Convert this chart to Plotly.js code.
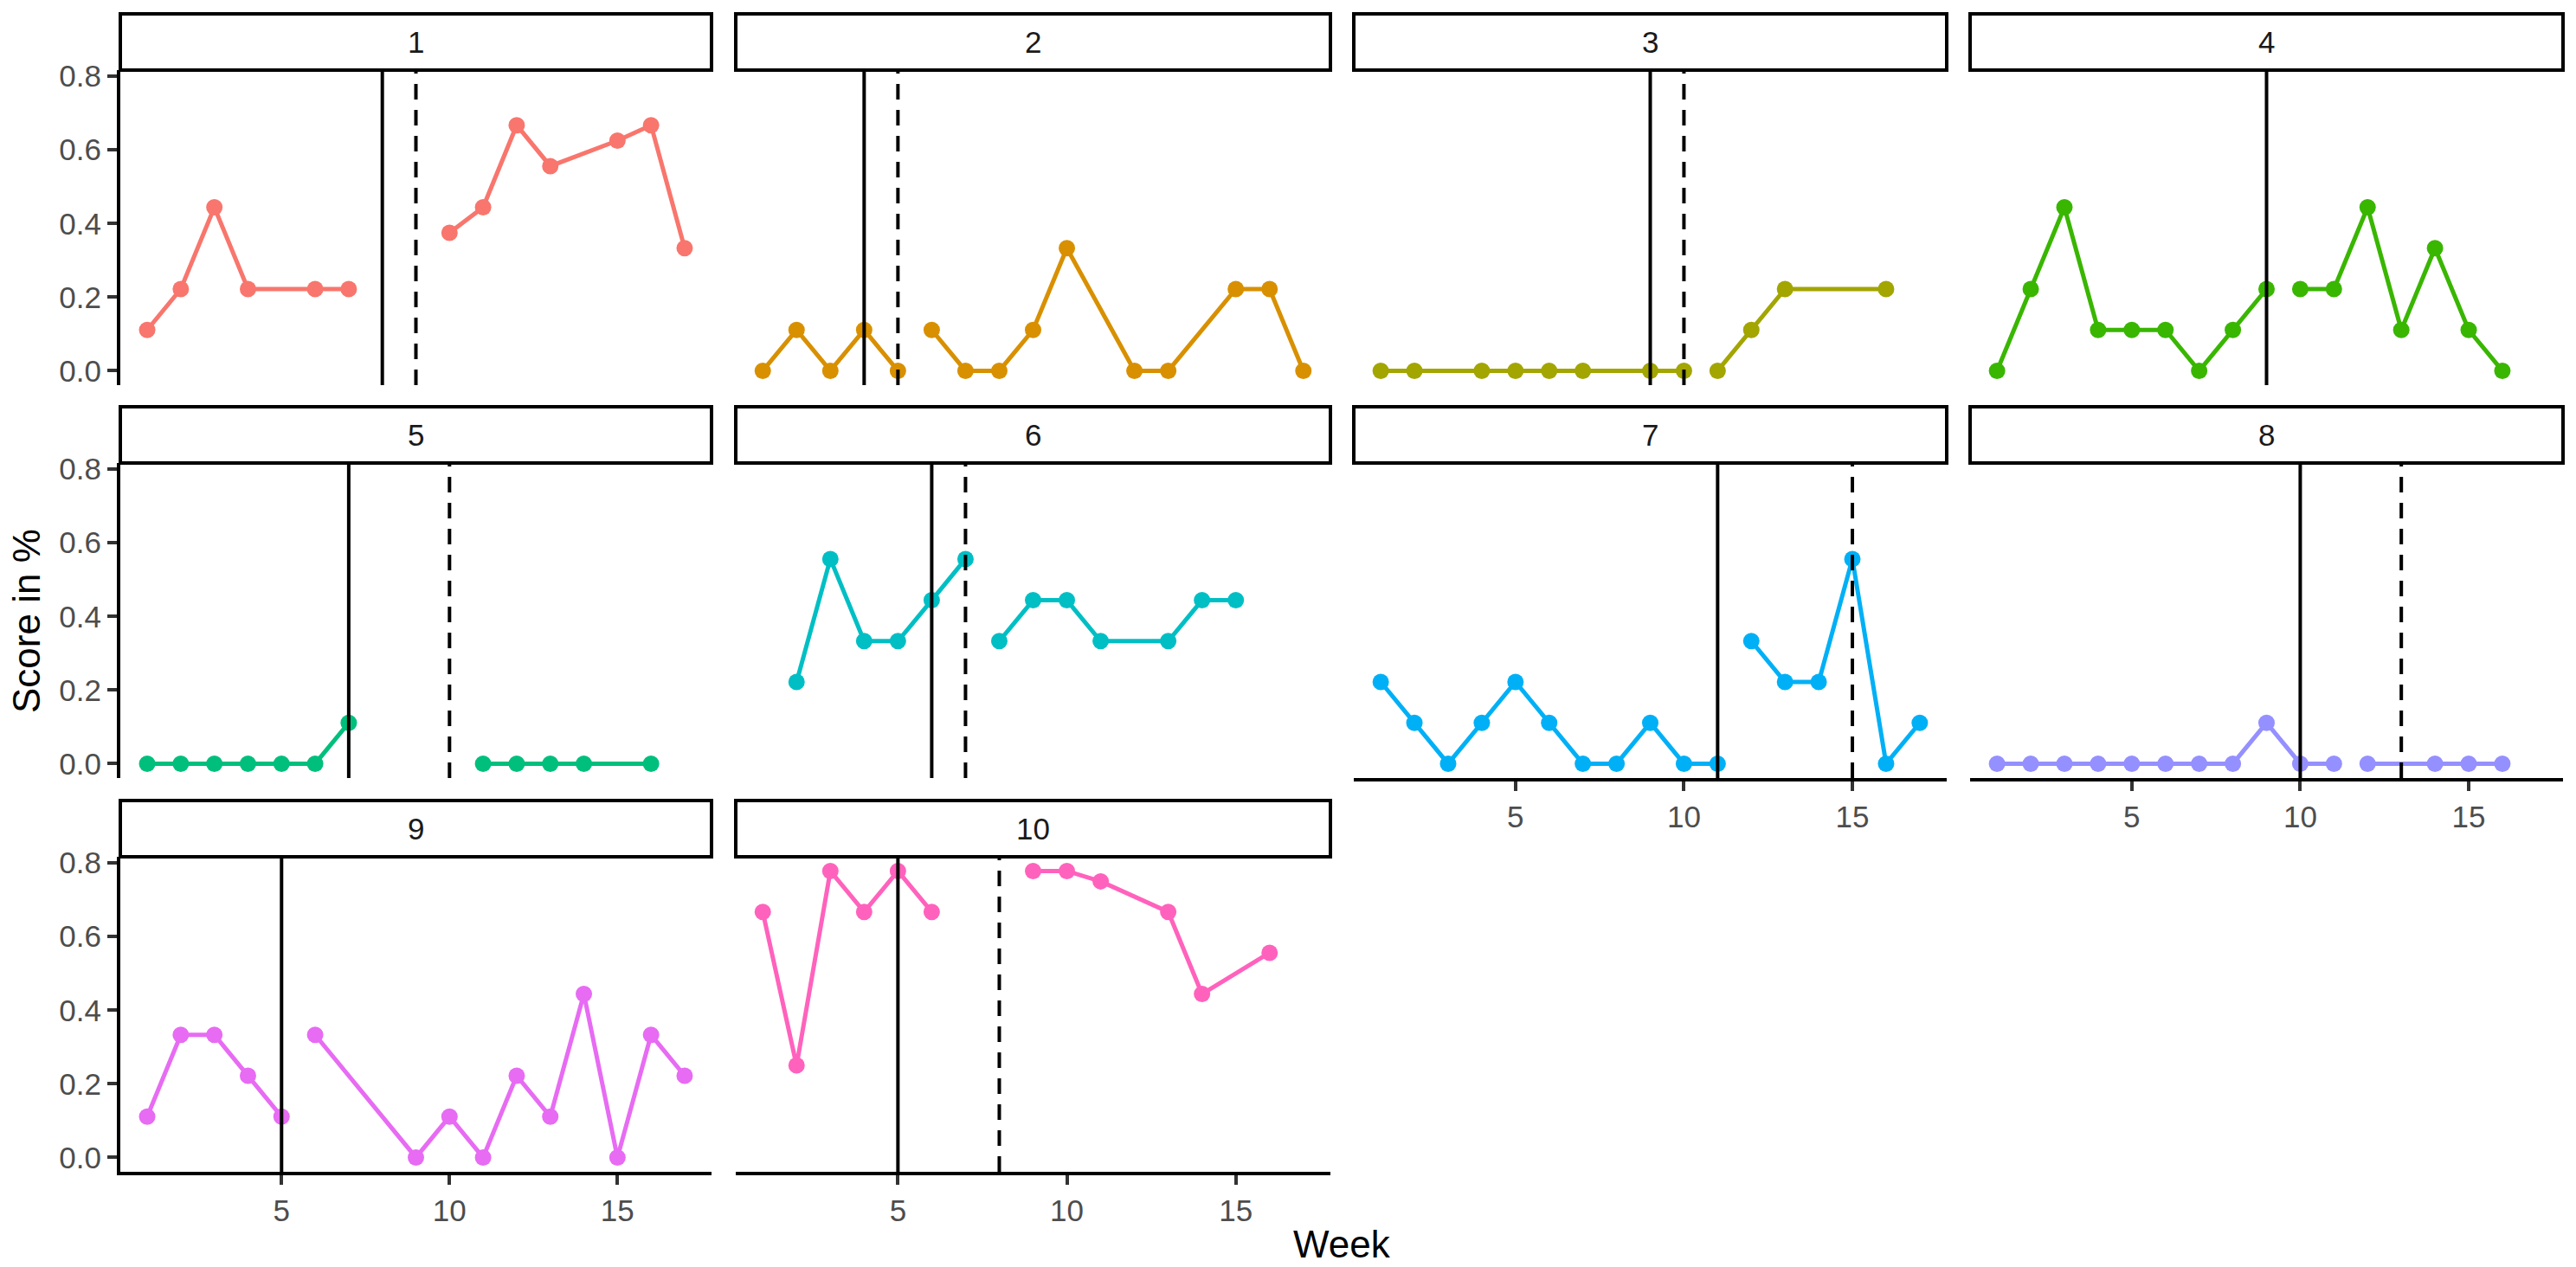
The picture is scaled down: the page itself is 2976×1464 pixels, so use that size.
<!DOCTYPE html>
<html>
<head>
<meta charset="utf-8">
<script src="https://cdn.plot.ly/plotly-3.0.1.min.js"></script>
<style>
  html, body { margin: 0; padding: 0; background: #fff; }
  #chart { width: 2976px; height: 1464px; }
</style>
</head>
<body>
<div id="chart"></div>
<script>
// one facet per participant
const participants = ['1', '2', '3', '4', '5', '6', '7', '8', '9', '10'];

// weeks and scores before the break in each line
const preWeeks = [
    [1, 2, 3, 4, 6, 7],
    [1, 2, 3, 4, 5],
    [1, 2, 4, 5, 6, 7, 9, 10],
    [1, 2, 3, 4, 5, 6, 7, 8, 9],
    [1, 2, 3, 4, 5, 6, 7],
    [2, 3, 4, 5, 6, 7],
    [1, 2, 3, 4, 5, 6, 7, 8, 9, 10, 11],
    [1, 2, 3, 4, 5, 6, 7, 8, 9, 10, 11],
    [1, 2, 3, 4, 5],
    [1, 2, 3, 4, 5, 6]
];
const preScores = [
    [0.111, 0.222, 0.444, 0.222, 0.222, 0.222],
    [0, 0.111, 0, 0.111, 0],
    [0, 0, 0, 0, 0, 0, 0, 0],
    [0, 0.222, 0.444, 0.111, 0.111, 0.111, 0, 0.111, 0.222],
    [0, 0, 0, 0, 0, 0, 0.111],
    [0.222, 0.556, 0.333, 0.333, 0.444, 0.556],
    [0.222, 0.111, 0, 0.111, 0.222, 0.111, 0, 0, 0.111, 0, 0],
    [0, 0, 0, 0, 0, 0, 0, 0, 0.111, 0, 0],
    [0.111, 0.333, 0.333, 0.222, 0.111],
    [0.667, 0.25, 0.778, 0.667, 0.778, 0.667]
];

// weeks and scores after the break
const postWeeks = [
    [10, 11, 12, 13, 15, 16, 17],
    [6, 7, 8, 9, 10, 12, 13, 15, 16, 17],
    [11, 12, 13, 16],
    [10, 11, 12, 13, 14, 15, 16],
    [11, 12, 13, 14, 16],
    [8, 9, 10, 11, 13, 14, 15],
    [12, 13, 14, 15, 16, 17],
    [12, 14, 15, 16],
    [6, 9, 10, 11, 12, 13, 14, 15, 16, 17],
    [9, 10, 11, 13, 14, 16]
];
const postScores = [
    [0.375, 0.444, 0.667, 0.556, 0.625, 0.667, 0.333],
    [0.111, 0, 0, 0.111, 0.333, 0, 0, 0.222, 0.222, 0],
    [0, 0.111, 0.222, 0.222],
    [0.222, 0.222, 0.444, 0.111, 0.333, 0.111, 0],
    [0, 0, 0, 0, 0],
    [0.333, 0.444, 0.444, 0.333, 0.333, 0.444, 0.444],
    [0.333, 0.222, 0.222, 0.556, 0, 0.111],
    [0, 0, 0, 0],
    [0.333, 0, 0.111, 0, 0.222, 0.111, 0.444, 0, 0.333, 0.222],
    [0.778, 0.778, 0.75, 0.667, 0.444, 0.556]
];

// solid line = phase change week, dashed line = second marker week
const solidWeek = [8, 4, 9, 9, 7, 6, 11, 10, 5, 5];
const dashedWeek = [9, 5, 10, null, 10, 7, 15, 13, null, 8];

const yTicks = [0, 0.2, 0.4, 0.6, 0.8];
const xTicks = [5, 10, 15];

const colors = ['#F8766D', '#D89000', '#A3A500', '#39B600', '#00BF7D',
                '#00BFC4', '#00B0F6', '#9590FF', '#E76BF3', '#FF62BC'];

// page geometry in pixels
const W = 2976, H = 1464;
const colX = [[139, 822], [850, 1537], [1564, 2249], [2276, 2961]];
const rowTop = [81, 535, 990];
const panelH = 364, stripH = 65;
const nCol = 4;
const font = 'Liberation Sans, Arial, sans-serif';

const data = [];
const shapes = [];
const annotations = [];
const layout = {
    width: W,
    height: H,
    margin: { l: 0, r: 0, t: 0, b: 0 },
    paper_bgcolor: '#ffffff',
    plot_bgcolor: '#ffffff',
    showlegend: false,
    font: { family: font, size: 35, color: '#4D4D4D' }
};

participants.forEach((p, i) => {
    const row = Math.floor(i / nCol);
    const col = i % nCol;
    const n = i === 0 ? '' : String(i + 1);
    const hasBelow = i + nCol < participants.length;
    const isLeft = col === 0;

    const top = rowTop[row];
    const bottom = top + panelH;

    layout['xaxis' + n] = {
        domain: [colX[col][0] / W, colX[col][1] / W],
        anchor: 'y' + n,
        range: [0.2, 17.8],
        showgrid: false,
        zeroline: false,
        showline: !hasBelow,
        linecolor: '#000000',
        linewidth: 4,
        ticks: hasBelow ? '' : 'outside',
        ticklen: 11,
        tickwidth: 4,
        tickcolor: '#333333',
        tickvals: xTicks,
        showticklabels: !hasBelow,
        tickfont: { family: font, size: 35, color: '#4D4D4D' }
    };
    layout['yaxis' + n] = {
        domain: [1 - bottom / H, 1 - top / H],
        anchor: 'x' + n,
        range: [-0.0389, 0.8167],
        showgrid: false,
        zeroline: false,
        showline: isLeft,
        linecolor: '#000000',
        linewidth: 4,
        ticks: isLeft ? 'outside' : '',
        ticklen: 11,
        tickwidth: 4,
        tickcolor: '#333333',
        tickvals: yTicks,
        ticktext: yTicks.map((v) => v.toFixed(1)),
        showticklabels: isLeft,
        tickfont: { family: font, size: 35, color: '#4D4D4D' }
    };

    [[preWeeks[i], preScores[i]], [postWeeks[i], postScores[i]]].forEach(([wk, sc]) => {
        data.push({
            x: wk,
            y: sc,
            xaxis: 'x' + n,
            yaxis: 'y' + n,
            type: 'scatter',
            mode: 'lines+markers',
            line: { color: colors[i], width: 5 },
            marker: { color: colors[i], size: 19 },
            hoverinfo: 'none'
        });
    });

    shapes.push({
        type: 'line',
        xref: 'x' + n, yref: 'y' + n + ' domain',
        x0: solidWeek[i], x1: solidWeek[i], y0: 0, y1: 1,
        line: { color: '#000000', width: 4 }
    });
    if (dashedWeek[i] !== null) {
        shapes.push({
            type: 'line',
            xref: 'x' + n, yref: 'y' + n + ' domain',
            x0: dashedWeek[i], x1: dashedWeek[i], y0: 0, y1: 1,
            line: { color: '#000000', width: 4, dash: '18px,12px' }
        });
    }

    // facet strip
    shapes.push({
        type: 'rect',
        xref: 'paper', yref: 'paper',
        x0: colX[col][0] / W, x1: colX[col][1] / W,
        y0: 1 - top / H, y1: 1 - (top - stripH) / H,
        fillcolor: '#ffffff',
        line: { color: '#000000', width: 4 }
    });
    annotations.push({
        text: p,
        xref: 'paper', yref: 'paper',
        x: (colX[col][0] + colX[col][1]) / 2 / W,
        y: 1 - (top - stripH / 2) / H,
        showarrow: false,
        xanchor: 'center', yanchor: 'middle',
        font: { family: font, size: 35, color: '#1A1A1A' }
    });
});

annotations.push({
    text: 'Week',
    xref: 'paper', yref: 'paper',
    x: 1550 / W, y: 1 - 1437 / H,
    showarrow: false,
    xanchor: 'center', yanchor: 'middle',
    font: { family: font, size: 44, color: '#000000' }
});
annotations.push({
    text: 'Score in %',
    xref: 'paper', yref: 'paper',
    x: 30 / W, y: 1 - 718 / H,
    showarrow: false,
    textangle: -90,
    xanchor: 'center', yanchor: 'middle',
    font: { family: font, size: 44, color: '#000000' }
});

layout.shapes = shapes;
layout.annotations = annotations;

Plotly.newPlot('chart', data, layout, { displayModeBar: false, staticPlot: true });
</script>
</body>
</html>
